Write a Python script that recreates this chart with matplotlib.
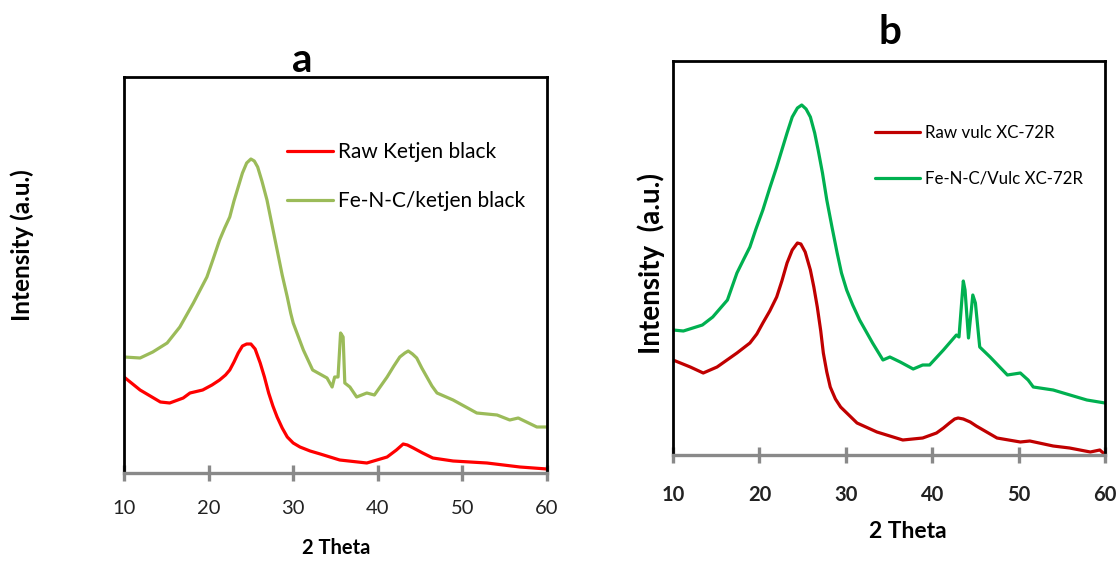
import matplotlib
matplotlib.use("Agg")
import matplotlib.pyplot as plt

# ---------------- data (panel a) ----------------
xa_raw = [10, 11.9, 14.3, 15.4, 17.0, 17.8, 19.3, 20.4, 21.3, 22.0, 22.5, 23.0, 23.5, 24.0, 24.5,
          25.0, 25.5, 26.1, 26.6, 27.1, 27.6, 28.1, 28.7, 29.3, 30.0, 30.8, 32.0, 33.2, 35.5,
          38.7, 41.1, 42.2, 43.0, 43.5, 44.2, 45.3, 46.5, 48.9, 52.9, 56.8, 60]
ya_raw = [96, 83, 71, 70, 75, 80, 83, 88, 93, 98, 103, 111, 120, 127, 129,
          129, 124, 110, 96, 80, 67, 56, 45, 36, 30, 26, 22, 19, 13,
          10, 16, 23, 29, 28, 25, 20, 15, 12, 10, 6, 4]

xa_fe = [10, 11.9, 13.4, 15.1, 16.6, 18.2, 19.8, 20.5, 21.3, 21.9, 22.5, 23.0, 23.5, 24.0, 24.5,
         25.0, 25.4, 25.8, 26.3, 26.9, 27.5, 28.1, 28.7, 29.3, 29.7, 30.0, 30.4, 31.2, 32.3,
         34.0, 34.6, 34.9, 35.3, 35.6, 35.9, 36.1, 36.7, 37.5, 38.7, 39.6, 41.1, 41.9, 42.6,
         43.2, 43.6, 44.1, 44.6, 45.2, 45.8, 46.4, 47.0, 48.9, 51.7, 54.1, 55.6, 56.6, 58.8, 60]
ya_fe = [116, 115, 121, 130, 146, 170, 196, 213, 233, 245, 256, 272, 286, 300, 310,
         314, 312, 306, 292, 273, 248, 223, 198, 176, 160, 150, 141, 123, 103,
         95, 86, 96, 96, 140, 136, 90, 86, 76, 80, 78, 96, 107, 116,
         120, 122, 119, 115, 105, 96, 87, 80, 73, 60, 58, 53, 55, 46, 46]

# ---------------- data (panel b) ----------------
xb_raw = [10, 12.0, 13.5, 15.1, 17.4, 18.9, 19.7, 20.4, 21.2, 22.0, 22.6, 23.2, 23.8, 24.4, 24.8,
          25.3, 25.9, 26.3, 26.7, 27.1, 27.4, 27.8, 28.2, 28.8, 29.4, 31.3, 33.6, 36.6, 38.9,
          40.5, 41.3, 42.0, 42.6, 43.0, 43.6, 44.4, 45.1, 45.9, 46.7, 47.5, 50.2, 51.3, 54.0,
          55.9, 57.1, 58.3, 59.4, 60]
yb_raw = [95, 88, 82, 88, 102, 112, 121, 132, 144, 158, 174, 192, 205, 212, 211,
          203, 185, 168, 148, 124, 102, 83, 68, 56, 48, 32, 23, 15, 17,
          22, 27, 32, 36, 37, 36, 33, 29, 25, 21, 17, 13, 14, 9,
          7, 5, 3, 5, 0.5]

xb_fe = [10, 11.2, 13.4, 14.6, 16.3, 17.4, 18.2, 18.9, 19.6, 20.4, 21.2, 22.0, 22.6, 23.2, 23.8,
         24.4, 24.9, 25.4, 25.9, 26.4, 26.8, 27.3, 27.8, 28.4, 29.0, 29.5, 30.1, 30.8, 31.6,
         33.1, 34.3, 35.1, 36.3, 37.8, 38.9, 39.7, 41.3, 42.8, 43.1, 43.6, 43.8, 44.2, 44.7,
         45.0, 45.5, 46.7, 48.7, 50.2, 51.1, 51.7, 54.0, 57.9, 60]
yb_fe = [125, 124, 130, 138, 155, 182, 196, 208, 226, 245, 267, 288, 305, 322, 338,
         347, 350, 346, 338, 322, 305, 282, 255, 228, 202, 182, 165, 150, 135,
         112, 95, 98, 93, 86, 90, 90, 105, 120, 118, 174, 165, 117, 160,
         152, 108, 98, 80, 82, 75, 68, 65, 55, 52]

xticks = [10, 20, 30, 40, 50, 60]
labels_a = ["Raw Ketjen black", "Fe-N-C/ketjen black"]
labels_b = ["Raw vulc XC-72R", "Fe-N-C/Vulc XC-72R"]

plt.rcParams['font.family'] = ['Lato', 'DejaVu Sans']

W, H = 1120, 561
fig = plt.figure(figsize=(W / 100, H / 100), dpi=100)

def frac_rect(l, t, r, b):
    return [l / W, 1 - b / H, (r - l) / W, (b - t) / H]

axa = fig.add_axes(frac_rect(124, 77, 547, 473))
axb = fig.add_axes(frac_rect(673, 61, 1105, 455))

GRAY = '#898989'

def style(ax, ymax, bold_ticks, pad):
    ax.set_xlim(10, 60)
    ax.set_ylim(0, ymax)
    ax.set_xticks(xticks)
    ax.set_yticks([])
    for s in ['left', 'right', 'top']:
        ax.spines[s].set_color('black')
        ax.spines[s].set_linewidth(2.0)
    ax.spines['bottom'].set_color(GRAY)
    ax.spines['bottom'].set_linewidth(2.4)
    ax.tick_params(axis='x', direction='inout', length=11, width=2.4, color=GRAY,
                   labelsize=14.5, pad=pad, labelcolor='#222222')
    for t in ax.get_xticklabels():
        t.set_fontweight('bold' if bold_ticks else 'normal')

style(axa, 396, False, 14)
style(axb, 394, True, 16)

kw = dict(lw=2.3, solid_joinstyle='round', solid_capstyle='round')
axa.plot(xa_raw, ya_raw, color='#FF0000', label=labels_a[0], **kw)
axa.plot(xa_fe, ya_fe, color='#9BBB59', label=labels_a[1], **kw)
axb.plot(xb_raw, yb_raw, color='#C00000', label=labels_b[0], **kw)
axb.plot(xb_fe, yb_fe, color='#00B050', label=labels_b[1], **kw)

axa.legend(loc='upper left', bbox_to_anchor=((287 - 124) / 423, (473 - 142) / 396),
           frameon=False, fontsize=15, handlelength=2.2, handletextpad=0.25,
           labelspacing=1.4, borderpad=0, borderaxespad=0)
axb.legend(loc='upper left', bbox_to_anchor=((875 - 673) / 432, (455 - 125) / 394),
           frameon=False, fontsize=12.2, handlelength=2.65, handletextpad=0.3,
           labelspacing=1.75, borderpad=0, borderaxespad=0)

# titles and axis labels
fig.text(302 / W, 1 - 60 / H, 'a', ha='center', va='center', fontsize=29, fontweight='bold')
fig.text(890 / W, 1 - 32 / H, 'b', ha='center', va='center', fontsize=29, fontweight='bold')
fig.text(22 / W, 1 - 245 / H, 'Intensity (a.u.)', rotation=90, ha='center', va='center',
         fontsize=17.5, fontweight='bold')
fig.text(651 / W, 1 - 263 / H, 'Intensity  (a.u.)', rotation=90, ha='center', va='center',
         fontsize=20, fontweight='bold')
fig.text(336 / W, 1 - 548 / H, '2 Theta', ha='center', va='center', fontsize=14.5, fontweight='bold')
fig.text(908 / W, 1 - 532 / H, '2 Theta', ha='center', va='center', fontsize=16.5, fontweight='bold')

fig.savefig('out.png', dpi=100)
